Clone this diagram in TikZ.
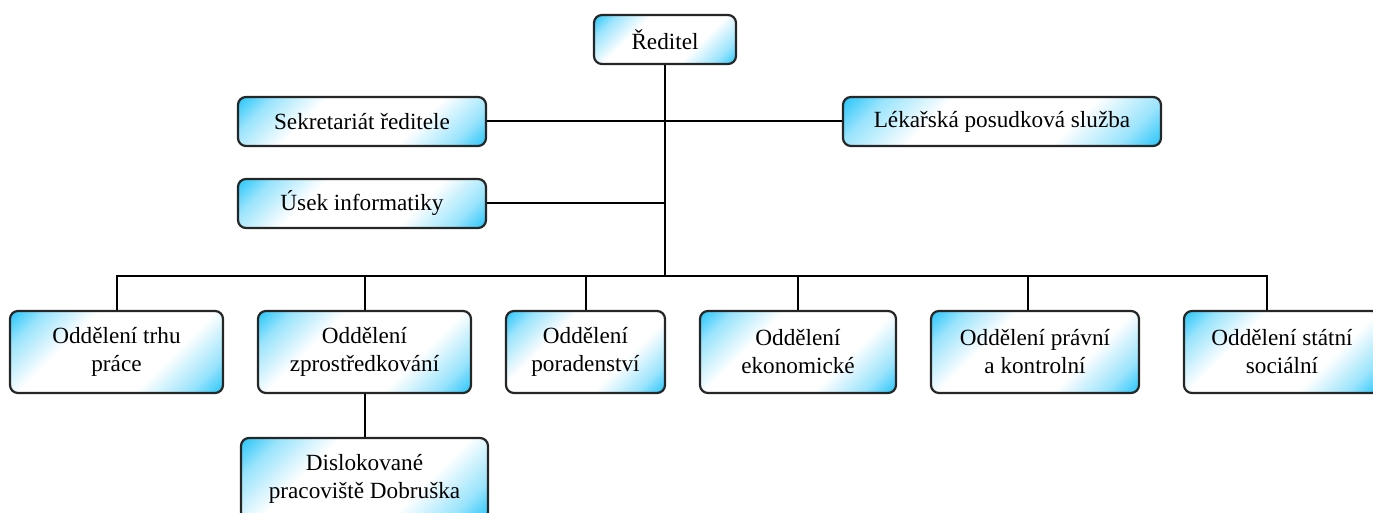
\documentclass[tikz,border=0pt]{standalone}
\usepackage{fontspec}
\setmainfont{Liberation Serif}
\definecolor{boxcyan}{RGB}{30,195,248}
\pgfdeclarehorizontalshading{cornerglow}{100bp}{color(0bp)=(boxcyan); color(14bp)=(boxcyan); color(23bp)=(boxcyan!45!white); color(36bp)=(white); color(64bp)=(white); color(77bp)=(boxcyan!45!white); color(86bp)=(boxcyan); color(100bp)=(boxcyan)}
\tikzset{%
	block/.style    = {draw=black!85, line width=1.1pt, rectangle, rounded corners=4pt,
		shade, shading=cornerglow, shading angle=-45, align=center,
		font=\fontsize{11.6}{14}\selectfont, inner sep=2pt}, % Box
	boxsize/.style 2 args = {minimum width=#1, minimum height=#2},
	line/.style     = {draw, line width=1pt}, % Connector
	bus/.style      = {coordinate} % Junction
}

\begin{document}
\begin{tikzpicture}[x=0.5pt,y=-0.5pt]
	\useasboundingbox (0,0) rectangle (1373,513);
	\clip (0,0) rectangle (1373,513);
	
	\node[block,boxsize={71pt}{24.5pt}] at (665,39.5) (ceo) {Ředitel};
	\node[block,boxsize={124pt}{24.5pt}] at (362,121.5) (secr) {Sekretariát ředitele};
	\node[block,boxsize={159pt}{24.5pt}] at (1002,121.5) (lps) {Lékařská posudková služba};
	\node[block,boxsize={124pt}{24.5pt}] at (362,203.5) (it) {Úsek informatiky};
	\node[bus] at (665,276.5) (bus) {};
	\node[block,boxsize={106.5pt}{41pt}] at (116.5,352) (trh) {Oddělení trhu\\práce};
	\node[block,boxsize={106.5pt}{41pt}] at (364.5,352) (zpr) {Oddělení\\zprostředkování};
	\node[block,boxsize={79.5pt}{41pt}] at (585.5,352) (por) {Oddělení\\poradenství};
	\node[block,boxsize={98pt}{41pt}] at (798,352) (eko) {Oddělení\\ekonomické};
	\node[block,boxsize={104pt}{41pt}] at (1035,352) (pra) {Oddělení právní\\a kontrolní};
	\node[block,boxsize={98pt}{41pt}] at (1282,352) (sss) {Oddělení státní\\sociální};
	\node[block,boxsize={123.5pt}{41pt}] at (364.5,479) (dobr) {Dislokované\\pracoviště Dobruška};
	
	\draw[line] (ceo) -- (bus);
	\draw[line] (secr) -- (lps);
	\draw[line] (it) -- (it -| ceo);
	\foreach \b in {trh,zpr,por,eko}
		\draw[line] (bus) -| (\b.north);
	\draw[line] (bus) -| ([xshift=-3.5pt]pra.north);
	\draw[line] (bus) -| ([xshift=-7.5pt]sss.north);
	\draw[line] (zpr) -- (dobr);
	
\end{tikzpicture}
\end{document}
